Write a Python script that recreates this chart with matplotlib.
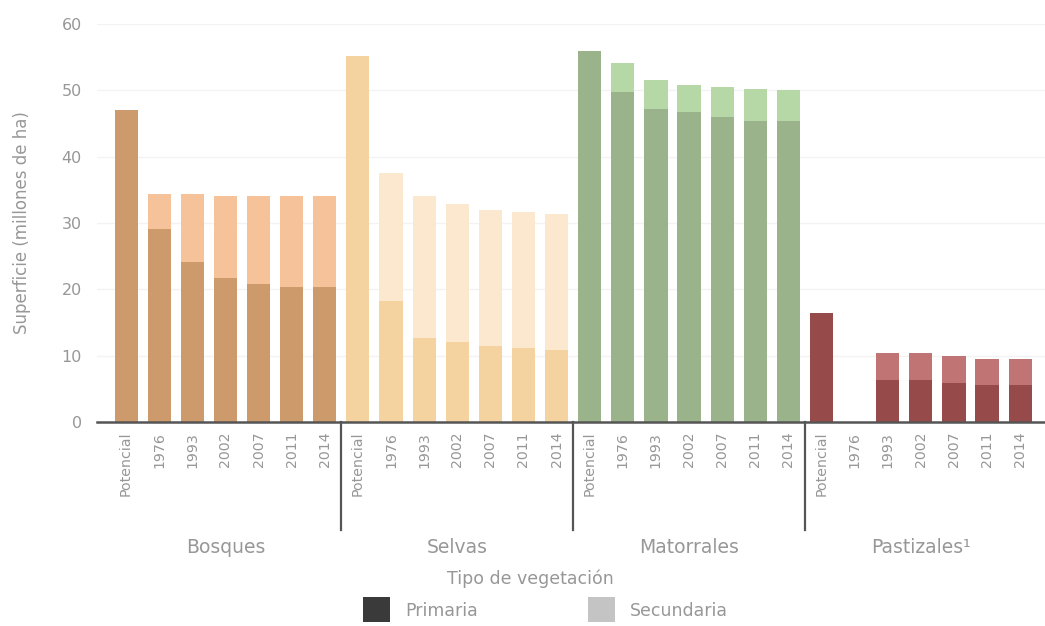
import matplotlib
matplotlib.use("Agg")
import matplotlib.pyplot as plt
from matplotlib.patches import Rectangle
import numpy as np

plt.rcParams['font.family'] = ['DejaVu Sans']

categories = ["Bosques", "Selvas", "Matorrales", "Pastizales¹"]
periods = ["Potencial", "1976", "1993", "2002", "2007", "2011", "2014"]

bosques_prim = [47.1, 29.1, 24.1, 21.7, 20.8, 20.4, 20.4]
bosques_sec = [0, 5.3, 10.3, 12.4, 13.3, 13.7, 13.7]
selvas_prim = [55.2, 18.3, 12.7, 12.0, 11.5, 11.1, 10.9]
selvas_sec = [0, 19.3, 21.4, 20.8, 20.4, 20.5, 20.4]
matorrales_prim = [55.9, 49.7, 47.2, 46.7, 46.0, 45.3, 45.3]
matorrales_sec = [0, 4.4, 4.4, 4.1, 4.5, 4.9, 4.7]
pastizales_prim = [16.4, 0, 6.3, 6.3, 5.9, 5.6, 5.6]
pastizales_sec = [0, 0, 4.1, 4.1, 4.0, 3.9, 3.9]

prim_colors = ["#CD9B6B", "#F4D3A0", "#9BB38B", "#964A4A"]
sec_colors = ["#F6C29A", "#FBE8CF", "#B6D8A7", "#C17474"]

prims = [bosques_prim, selvas_prim, matorrales_prim, pastizales_prim]
secs = [bosques_sec, selvas_sec, matorrales_sec, pastizales_sec]

fig = plt.figure(figsize=(10.45, 6.26), dpi=100)
ax = fig.add_axes([0.0928, 0.326, 0.9072, 0.6357])

gray = "#979797"
n = len(periods)
xticks, xlabels = [], []
for g, cat in enumerate(categories):
    x = np.arange(n) + g * n
    ax.bar(x, prims[g], width=0.7, color=prim_colors[g], zorder=2)
    ax.bar(x, secs[g], bottom=prims[g], width=0.7, color=sec_colors[g], zorder=2)
    xticks.extend(x)
    xlabels.extend(periods)

ax.set_xlim(-0.88, 4 * n - 0.25)
ax.set_ylim(0, 60)
ax.set_yticks([0, 10, 20, 30, 40, 50, 60])
ax.yaxis.grid(True, color="#f3f3f3", linewidth=1, zorder=0)
ax.set_axisbelow(True)
ax.set_xticks(xticks)
ax.set_xticklabels(xlabels, rotation=90, color=gray, fontsize=10.2)
ax.tick_params(axis="x", length=0, pad=7)
ax.tick_params(axis="y", length=0, pad=11, labelcolor=gray, labelsize=11.5)
for s in ["top", "right", "left"]:
    ax.spines[s].set_visible(False)
ax.spines["bottom"].set_color("#555555")
ax.spines["bottom"].set_linewidth(1.8)
ax.spines["bottom"].set_zorder(3)

ax.set_ylabel("Superficie (millones de ha)", color=gray, fontsize=12, labelpad=22)

# group separators and labels
trans = ax.get_xaxis_transform()
axh = 0.6357 * 626
y_sep_bottom = -(530 - 422) / axh
for g in range(1, 4):
    xs = g * n - 0.5
    ax.plot([xs, xs], [0, y_sep_bottom], transform=trans, color="#555555", lw=1.6, clip_on=False)
y_cat = -(548 - 422) / axh
for g, cat in enumerate(categories):
    ax.text(g * n + (n - 1) / 2, y_cat, cat, transform=trans, ha="center", va="center",
            color=gray, fontsize=13.5)

# legend
fig.text(530 / 1045, 1 - 579 / 626, "Tipo de vegetación", ha="center", va="center",
         color=gray, fontsize=12.5)
sq_w, sq_h = 27 / 1045, 25 / 626
for x0, col, lbl in [(363, "#3a3a3a", "Primaria"), (588, "#c4c4c4", "Secundaria")]:
    fig.add_artist(Rectangle((x0 / 1045, 1 - 622 / 626), sq_w, sq_h, transform=fig.transFigure,
                             facecolor=col, edgecolor="none"))
    fig.text((x0 + 42) / 1045, 1 - 611 / 626, lbl, ha="left", va="center",
             color=gray, fontsize=12.5)

fig.savefig("out.png", dpi=100)
